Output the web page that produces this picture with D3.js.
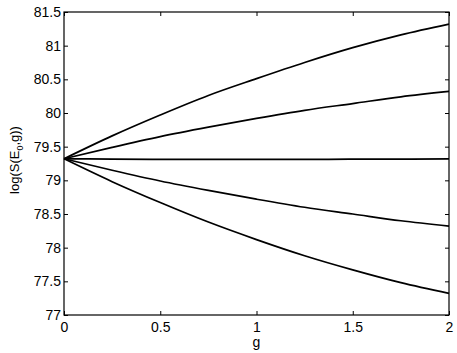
<!DOCTYPE html>
<html>
<head>
<meta charset="utf-8">
<script src="https://cdn.jsdelivr.net/npm/d3@7"></script>
<style>
  body { margin: 0; background: #fff; }
  svg text { font-family: "Liberation Sans", Arial, sans-serif; font-size: 14px; fill: #000; }
  .curve { fill: none; stroke: #000; stroke-width: 1.7; }
  .frame { fill: none; stroke: #000; stroke-width: 1.2; }
</style>
</head>
<body>
<svg width="457" height="353"></svg>
<script>
// g values sampled along the curves
var gValues = [0, 0.25, 0.5, 0.75, 1, 1.25, 1.5, 1.75, 2];

// log(S(E0,g)) for each curve, top to bottom
var curveA = [79.32, 79.66, 79.97, 80.26, 80.51, 80.75, 80.97, 81.16, 81.32];
var curveB = [79.32, 79.49, 79.65, 79.79, 79.92, 80.04, 80.14, 80.24, 80.32];
var curveC = [79.32, 79.315, 79.31, 79.31, 79.31, 79.31, 79.315, 79.315, 79.32];
var curveD = [79.32, 79.15, 78.99, 78.85, 78.72, 78.60, 78.50, 78.40, 78.32];
var curveE = [79.32, 78.98, 78.67, 78.38, 78.12, 77.88, 77.67, 77.48, 77.32];

var xTicks = [0, 0.5, 1, 1.5, 2];
var yTicks = [77, 77.5, 78, 78.5, 79, 79.5, 80, 80.5, 81, 81.5];

var svg = d3.select("svg"),
    boxL = 64, boxR = 449, boxT = 12, boxB = 315;

var x = d3.scaleLinear().domain([0, 2]).range([boxL, boxR]);
var y = d3.scaleLinear().domain([77, 81.5]).range([boxB, boxT]);

var fmt = function(d) { return String(d); };

// ticks inside the box, on all four sides
function styleAxis(g) {
  g.select(".domain").remove();
  g.selectAll(".tick line").attr("stroke", "#000").attr("stroke-width", 1);
  g.selectAll("text").attr("font-size", null).attr("font-family", null);
}

svg.append("g")
   .attr("transform", "translate(0," + boxB + ")")
   .call(d3.axisBottom(x).tickValues(xTicks).tickFormat(fmt).tickSizeInner(-4).tickPadding(7))
   .call(styleAxis);

svg.append("g")
   .attr("transform", "translate(0," + boxT + ")")
   .call(d3.axisTop(x).tickValues(xTicks).tickFormat("").tickSizeInner(-4))
   .call(styleAxis);

svg.append("g")
   .attr("transform", "translate(" + boxL + ",0)")
   .call(d3.axisLeft(y).tickValues(yTicks).tickFormat(fmt).tickSizeInner(-4).tickPadding(3))
   .call(styleAxis);

svg.append("g")
   .attr("transform", "translate(" + boxR + ",0)")
   .call(d3.axisRight(y).tickValues(yTicks).tickFormat("").tickSizeInner(-4))
   .call(styleAxis);

// curves
var line = d3.line()
   .x(function(d, i) { return x(gValues[i]); })
   .y(function(d) { return y(d); })
   .curve(d3.curveMonotoneX);

svg.selectAll(".curve")
   .data([curveA, curveB, curveC, curveD, curveE])
   .enter().append("path")
     .attr("class", "curve")
     .attr("d", line);

svg.append("rect")
   .attr("class", "frame")
   .attr("x", boxL).attr("y", boxT)
   .attr("width", boxR - boxL).attr("height", boxB - boxT);

// axis labels
svg.append("text")
   .attr("x", (boxL + boxR) / 2)
   .attr("y", 347)
   .attr("text-anchor", "middle")
   .text("g");

var yl = svg.append("text")
   .attr("transform", "translate(19,160) rotate(-90)")
   .attr("text-anchor", "middle")
   .style("font-size", "13px");
yl.append("tspan").text("log(S(E");
yl.append("tspan").attr("dy", 4).attr("font-size", "9px").text("0");
yl.append("tspan").attr("dy", -4).text(",g))");
</script>
</body>
</html>
